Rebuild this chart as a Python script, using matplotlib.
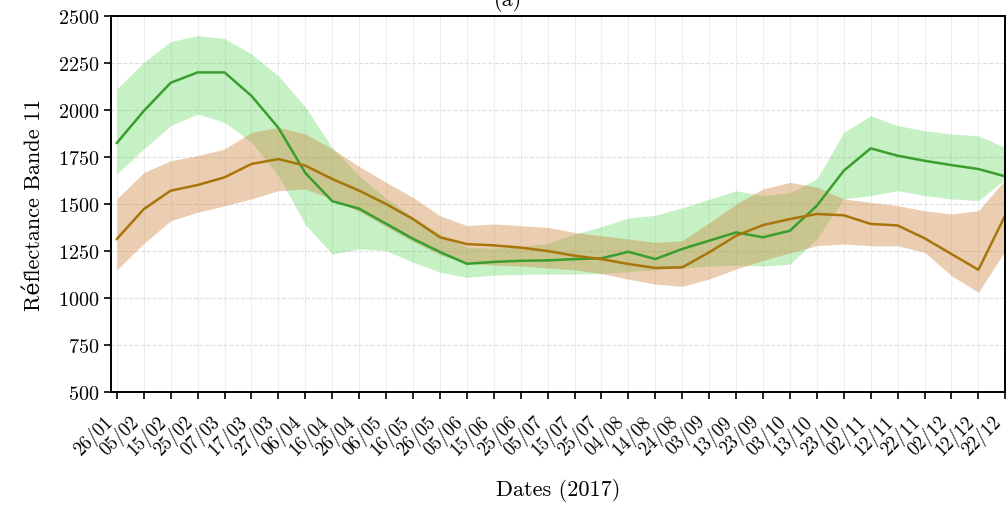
import matplotlib
matplotlib.use("Agg")
import matplotlib.pyplot as plt
import matplotlib.transforms as mtransforms

plt.rcParams['font.family'] = ['cmr10', 'DejaVu Serif']
plt.rcParams['mathtext.fontset'] = 'cm'
plt.rcParams['axes.formatter.use_mathtext'] = True

# dates of the acquisitions (every 10 days)
dates = ['26/01', '05/02', '15/02', '25/02', '07/03', '17/03', '27/03', '06/04',
         '16/04', '26/04', '06/05', '16/05', '26/05', '05/06', '15/06', '25/06',
         '05/07', '15/07', '25/07', '04/08', '14/08', '24/08', '03/09', '13/09',
         '23/09', '03/10', '13/10', '23/10', '02/11', '12/11', '22/11', '02/12',
         '12/12', '22/12']

# green class: mean and band
green_mean = [1825, 1995, 2145, 2200, 2200, 2075, 1905, 1665, 1515, 1475, 1395, 1315,
              1245, 1182, 1192, 1198, 1200, 1207, 1211, 1246, 1207, 1261, 1305, 1349,
              1323, 1358, 1491, 1677, 1796, 1757, 1730, 1707, 1686, 1647]
green_upper = [2112, 2254, 2364, 2396, 2380, 2298, 2182, 2015, 1800, 1650, 1530, 1430,
               1340, 1270, 1265, 1275, 1290, 1340, 1380, 1425, 1440, 1480, 1525, 1570,
               1545, 1560, 1633, 1880, 1970, 1917, 1890, 1872, 1863, 1801]
green_lower = [1660, 1793, 1917, 1979, 1934, 1828, 1650, 1390, 1234, 1261, 1252, 1190,
               1137, 1110, 1122, 1125, 1128, 1128, 1130, 1140, 1150, 1160, 1170, 1175,
               1170, 1180, 1314, 1527, 1545, 1571, 1545, 1527, 1518, 1633]

# brown class: mean and band
brown_mean = [1314, 1473, 1571, 1601, 1642, 1713, 1739, 1704, 1633, 1571, 1500, 1420,
              1323, 1287, 1280, 1268, 1250, 1225, 1207, 1181, 1160, 1163, 1243, 1331,
              1388, 1420, 1447, 1440, 1394, 1386, 1318, 1234, 1150, 1440]
brown_upper = [1527, 1668, 1730, 1757, 1793, 1881, 1908, 1872, 1793, 1700, 1615, 1535,
               1438, 1385, 1394, 1385, 1376, 1349, 1331, 1314, 1296, 1305, 1400, 1500,
               1580, 1615, 1590, 1527, 1509, 1491, 1464, 1447, 1464, 1630]
brown_lower = [1150, 1290, 1411, 1456, 1491, 1527, 1571, 1580, 1527, 1460, 1380, 1300,
               1230, 1185, 1175, 1170, 1160, 1150, 1130, 1100, 1074, 1062, 1101, 1154,
               1200, 1240, 1278, 1287, 1278, 1278, 1243, 1119, 1030, 1252]

x = list(range(len(dates)))

fig = plt.figure(figsize=(10.06, 5.06), dpi=100)
ax = fig.add_axes([0.1103, 0.2233, 0.889, 0.7431])

ax.fill_between(x, green_lower, green_upper, color='limegreen', alpha=0.28, linewidth=0)
ax.plot(x, green_mean, color='#3a9e2e', linewidth=1.8)
ax.fill_between(x, brown_lower, brown_upper, color='peru', alpha=0.4, linewidth=0)
ax.plot(x, brown_mean, color='#a8750a', linewidth=1.8)

ax.set_xlim(-0.22, len(dates) - 1)
ax.set_ylim(500, 2500)
ax.set_yticks(range(500, 2501, 250))
ax.set_xticks(x)
ax.set_xticklabels(dates, rotation=45, ha='right', va='center',
                   rotation_mode='anchor', fontsize=13.5)
ax.tick_params(axis='x', pad=14)
ax.tick_params(axis='y', labelsize=14.5)
ax.tick_params(direction='out', length=5, width=1.2)

# nudge the rotated date labels a little to the left, like the original
shift = mtransforms.ScaledTranslation(-0.07, 0, fig.dpi_scale_trans)
for lab in ax.get_xticklabels():
    lab.set_transform(lab.get_transform() + shift)

ax.xaxis.grid(True, color='0.93', linewidth=0.8)
ax.yaxis.grid(True, color='0.88', linewidth=0.8, linestyle='--')
ax.set_axisbelow(True)
for s in ax.spines.values():
    s.set_linewidth(1.4)

ax.set_ylabel('Réflectance Bande 11', fontsize=16, labelpad=10)
ax.set_xlabel('Dates (2017)', fontsize=16, labelpad=14)

fig.text(0.505, 1.0, '(a)', ha='center', va='center', fontsize=16)

fig.savefig('out.png', dpi=100)
